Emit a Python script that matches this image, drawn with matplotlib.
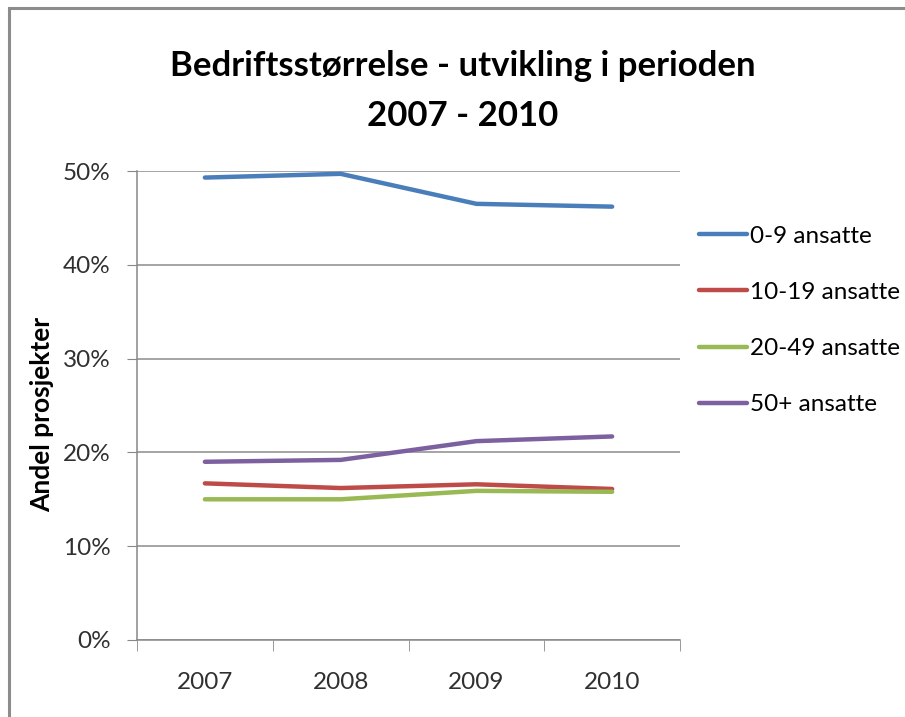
import numpy as np
import matplotlib.pyplot as plt
from matplotlib.patches import Rectangle

plt.rcParams['font.family'] = ['Lato', 'DejaVu Sans']

# Andel prosjekter per bedriftsstørrelse (prosent)
years = ['2007', '2008', '2009', '2010']
ansatte_0_9 = [49.3, 49.7, 46.5, 46.2]
ansatte_10_19 = [16.7, 16.2, 16.6, 16.1]
ansatte_20_49 = [15.0, 15.0, 15.9, 15.8]
ansatte_50 = [19.0, 19.2, 21.2, 21.7]

series = [
    ('0-9 ansatte', ansatte_0_9, '#4a7ebb'),
    ('10-19 ansatte', ansatte_10_19, '#be4b48'),
    ('20-49 ansatte', ansatte_20_49, '#98b954'),
    ('50+ ansatte', ansatte_50, '#7d60a0'),
]

fig = plt.figure(figsize=(9.05, 7.17), dpi=100)
ax = fig.add_axes([0.1514, 0.1074, 0.600, 0.6541])

x = np.arange(len(years))
for label, vals, color in series:
    ax.plot(x, vals, color=color, linewidth=3.2, label=label, solid_capstyle='round')

ax.set_xlim(-0.5, len(years) - 0.5)
ax.set_ylim(0, 50)
ax.set_yticks(np.arange(0, 51, 10))
ax.set_yticklabels([f'{v}%' for v in range(0, 51, 10)], fontsize=17.5, color='#303030')
ax.set_xticks(x)
ax.set_xticklabels(years, fontsize=17.5, color='#303030')
ax.set_xticks(np.arange(-0.5, len(years)), minor=True)
ax.tick_params(axis='x', which='major', length=0, pad=23)
ax.tick_params(axis='x', which='minor', length=8, color='#888888')
ax.tick_params(axis='y', length=7, color='#888888', pad=12)
ax.yaxis.grid(True, color='#8c8c8c', linewidth=1.1)
ax.set_axisbelow(True)
for side in ['top', 'right']:
    ax.spines[side].set_visible(False)
for side in ['left', 'bottom']:
    ax.spines[side].set_color('#888888')
    ax.spines[side].set_linewidth(1.1)

ax.set_ylabel('Andel prosjekter', fontsize=19, fontweight='bold')
ax.yaxis.set_label_coords(-0.152, 0.48)

fig.text(0.511, 0.908, 'Bedriftsstørrelse - utvikling i perioden', ha='center', va='center',
         fontsize=25, fontweight='bold')
fig.text(0.511, 0.838, '2007 - 2010', ha='center', va='center',
         fontsize=25, fontweight='bold')

ax.legend(loc='upper left', bbox_to_anchor=(0.994, 0.93), frameon=False, fontsize=17.5,
          handlelength=2.0, handletextpad=0.1, labelspacing=1.45)

# outer frame (left and top edges only show)
fig.patches.append(Rectangle((0.0094, -0.05), 1.1, 1.039, transform=fig.transFigure,
                             fill=False, edgecolor='#8c8c8c', linewidth=2.2))

fig.savefig('out.png', dpi=100)
